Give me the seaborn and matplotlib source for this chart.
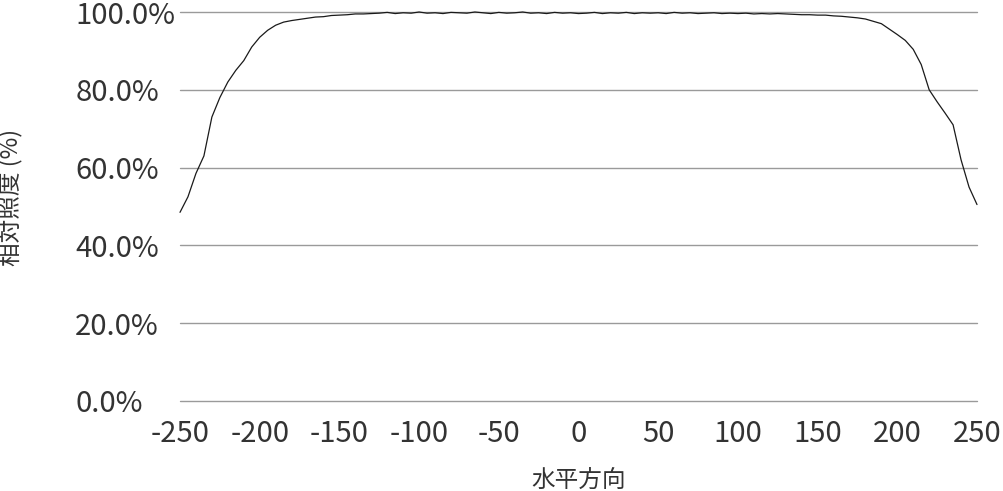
import matplotlib
matplotlib.use("Agg")
import matplotlib.pyplot as plt
import seaborn as sns
import pandas as pd
from matplotlib.ticker import FuncFormatter

# horizontal position (mm) and relative illuminance (%)
x_pos = list(range(-250, 255, 5))
left_vals = [48.5, 52.5, 58.5, 63.0, 73.0, 78.0, 82.0, 85.0, 87.5, 91.0,
             93.5, 95.3, 96.6, 97.4, 97.8, 98.1, 98.4, 98.7, 98.8, 99.1,
             99.2, 99.3, 99.5, 99.5, 99.6]
center_vals = [99.7, 99.9, 99.6, 99.8, 99.7, 100.0, 99.7, 99.8, 99.6, 99.9,
               99.8, 99.7, 100.0, 99.8, 99.6, 99.9, 99.7, 99.8, 100.0, 99.7,
               99.8, 99.6, 99.9, 99.7, 99.8, 99.6, 99.7, 99.9, 99.6, 99.8,
               99.7, 99.9, 99.6, 99.8, 99.7, 99.8, 99.6, 99.9, 99.7, 99.8,
               99.6, 99.7, 99.8, 99.6, 99.7, 99.6, 99.7, 99.5, 99.6, 99.5,
               99.6]
right_vals = [99.5, 99.4, 99.3, 99.3, 99.2, 99.2, 99.0, 98.9, 98.7, 98.5,
              98.2, 97.6, 97.0, 95.6, 94.2, 92.7, 90.4, 86.5, 80.0, 76.9,
              74.0, 71.0, 62.0, 55.0, 50.5]
illum = left_vals + center_vals + right_vals

x_ticks = [-250, -200, -150, -100, -50, 0, 50, 100, 150, 200, 250]
y_ticks = [0, 20, 40, 60, 80, 100]
x_label = "水平方向"
y_label = "相対照度 (%)"

sns.set_style("white")
plt.rcParams['font.family'] = ['Noto Sans CJK JP', 'DejaVu Sans']
plt.rcParams['axes.unicode_minus'] = False

df = pd.DataFrame({"x": x_pos, "y": illum})

fig = plt.figure(figsize=(10.04, 4.91), dpi=100)
ax = fig.add_axes([180/1004, 1 - 401/491, 797/1004, 389/491])

for yt in y_ticks:
    ax.axhline(yt, color="#9a9a9a", lw=1.0, zorder=1, clip_on=False)

sns.lineplot(data=df, x="x", y="y", ax=ax, color="#1a1a1a", lw=0.9, zorder=3)
for l in ax.lines:
    l.set_clip_on(False)

ax.set_xlim(-250, 250)
ax.set_ylim(0, 100)
ax.set_xticks(x_ticks)
ax.set_yticks(y_ticks)
ax.yaxis.set_major_formatter(FuncFormatter(lambda v, p: f"{v:.1f}%"))
ax.xaxis.set_major_formatter(FuncFormatter(lambda v, p: f"{int(v)}"))
for s in ax.spines.values():
    s.set_visible(False)
ax.tick_params(axis="x", length=0, pad=13, labelsize=21, labelcolor="#333333")
ax.tick_params(axis="y", length=0, pad=75.5, labelsize=21, labelcolor="#333333")
for t in ax.get_yticklabels():
    t.set_horizontalalignment("left")

ax.set_xlabel(x_label, fontsize=17, color="#333333")
ax.set_ylabel(y_label, fontsize=17, color="#333333")
ax.xaxis.set_label_coords(0.5, -0.175)
ax.yaxis.set_label_coords(-0.197, 0.524)

fig.savefig("out.png", dpi=100)
